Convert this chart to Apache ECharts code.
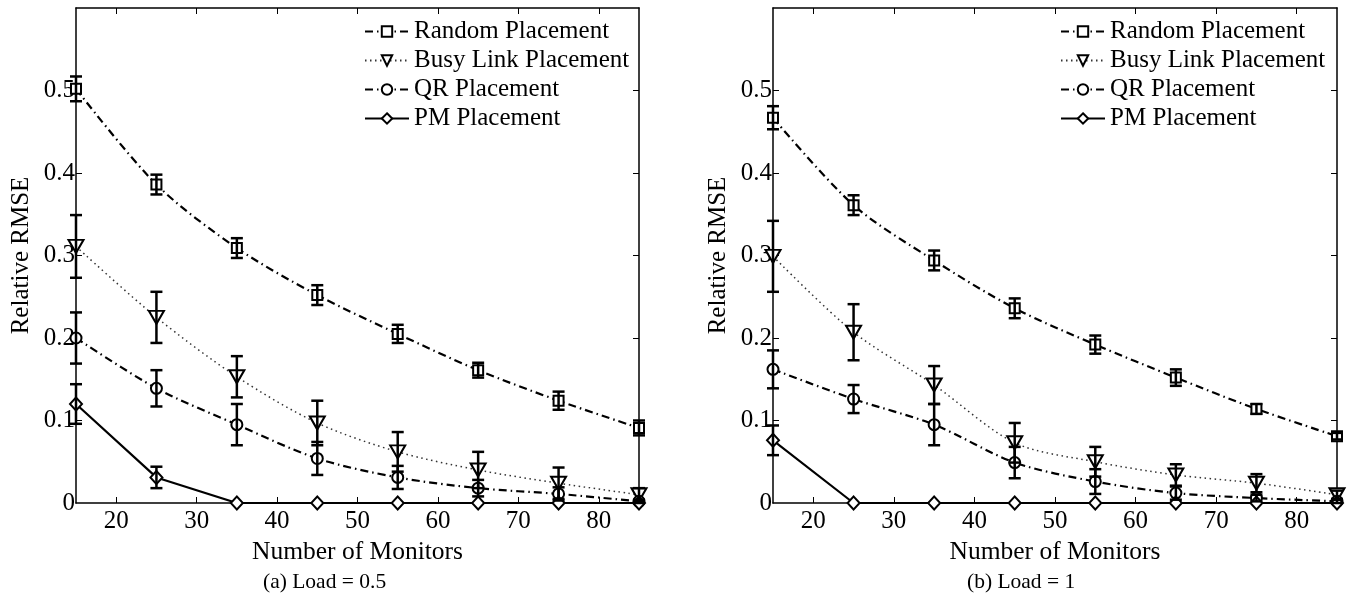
<!DOCTYPE html>
<html>
<head>
<meta charset="utf-8">
<script src="https://cdn.jsdelivr.net/npm/echarts@6/dist/echarts.min.js"></script>
<style>html,body{margin:0;padding:0;background:#fff;}#c{width:1356px;height:596px;}</style>
</head>
<body>
<div id="c"></div>
<script>
// ---- data ----
const monitors = [15, 25, 35, 45, 55, 65, 75, 85];
const xTicks = [20, 30, 40, 50, 60, 70, 80];
const yTicks = [0.1, 0.2, 0.3, 0.4, 0.5];
const seriesNames = ['Random Placement', 'Busy Link Placement', 'QR Placement', 'PM Placement'];
const captions = ['(a) Load = 0.5', '(b) Load = 1'];

// Load = 0.5
const randomA    = [0.502, 0.386, 0.309, 0.252, 0.205, 0.161, 0.124, 0.091];
const randomAErr = [0.015, 0.012, 0.012, 0.012, 0.011, 0.009, 0.011, 0.009];
const busyA      = [0.311, 0.225, 0.153, 0.097, 0.062, 0.040, 0.024, 0.010];
const busyAErr   = [0.038, 0.031, 0.025, 0.027, 0.024, 0.022, 0.019, 0.008];
const qrA        = [0.200, 0.139, 0.095, 0.054, 0.031, 0.018, 0.011, 0.002];
const qrAErr     = [0.031, 0.022, 0.025, 0.020, 0.014, 0.010, 0.008, 0.002];
const pmA        = [0.120, 0.031, 0, 0, 0, 0, 0, 0];
const pmAErr     = [0.024, 0.013, 0, 0, 0, 0, 0, 0];

// Load = 1
const randomB    = [0.467, 0.361, 0.294, 0.236, 0.192, 0.152, 0.114, 0.081];
const randomBErr = [0.014, 0.012, 0.012, 0.012, 0.011, 0.010, 0.006, 0.004];
const busyB      = [0.299, 0.207, 0.143, 0.073, 0.050, 0.034, 0.024, 0.010];
const busyBErr   = [0.043, 0.034, 0.023, 0.024, 0.018, 0.013, 0.011, 0.005];
const qrB        = [0.162, 0.126, 0.095, 0.049, 0.026, 0.012, 0.006, 0.002];
const qrBErr     = [0.023, 0.017, 0.025, 0.019, 0.015, 0.008, 0.004, 0.002];
const pmB        = [0.076, 0, 0, 0, 0, 0, 0, 0];
const pmBErr     = [0.018, 0, 0, 0, 0, 0, 0, 0];

// ---- styles ----
const FONT = 'Liberation Serif';
const styles = [
  {symbol: 'rect', size: 10, rotate: 0, line: {width: 2.2, type: [8, 4, 1.5, 4], color: '#000'}, smooth: 0.3},
  {symbol: 'triangle', size: [15, 13], rotate: 180, line: {width: 1.5, type: [1.5, 3.5], color: '#333'}, smooth: 0.3},
  {symbol: 'circle', size: 11, rotate: 0, line: {width: 2.2, type: [8, 4, 1.5, 4], color: '#000'}, smooth: 0.3},
  {symbol: 'diamond', size: [12, 13], rotate: 0, line: {width: 2.2, type: 'solid', color: '#000'}, smooth: false}
];

const panels = [
  {means: [randomA, busyA, qrA, pmA], errs: [randomAErr, busyAErr, qrAErr, pmAErr], left: 76, width: 563, legendLeft: 364, capLeft: 263},
  {means: [randomB, busyB, qrB, pmB], errs: [randomBErr, busyBErr, qrBErr, pmBErr], left: 773, width: 564, legendLeft: 1060, capLeft: 967}
];

const grids = [], xAxes = [], yAxes = [], series = [], legends = [], graphics = [];
const axisLineStyle = {color: '#000', width: 1.5};

panels.forEach((p, pi) => {
  grids.push({left: p.left, top: 8, width: p.width, height: 495, containLabel: false});
  xAxes.push({
    type: 'value', gridIndex: pi, min: 15, max: 85, position: 'bottom',
    name: 'Number of Monitors', nameLocation: 'middle', nameGap: 26,
    nameTextStyle: {fontFamily: FONT, fontSize: 25.5, color: '#000'},
    axisLine: {show: true, onZero: false, lineStyle: axisLineStyle},
    axisTick: {show: true, inside: true, length: 6, customValues: xTicks, lineStyle: {color: '#000', width: 1}},
    axisLabel: {show: true, customValues: xTicks, margin: 6, fontFamily: FONT, fontSize: 25, color: '#000'},
    splitLine: {show: false}
  });
  xAxes.push({
    type: 'value', gridIndex: pi, min: 15, max: 85, position: 'top',
    axisLine: {show: true, onZero: false, lineStyle: axisLineStyle},
    axisTick: {show: true, inside: true, length: 6, customValues: xTicks, lineStyle: {color: '#000', width: 1}},
    axisLabel: {show: false}, splitLine: {show: false}
  });
  yAxes.push({
    type: 'value', gridIndex: pi, min: 0, max: 0.6, interval: 0.1, position: 'left',
    name: 'Relative RMSE', nameLocation: 'middle', nameGap: 42,
    nameTextStyle: {fontFamily: FONT, fontSize: 25, color: '#000'},
    axisLine: {show: true, onZero: false, lineStyle: axisLineStyle},
    axisTick: {show: true, inside: true, length: 6, customValues: yTicks, lineStyle: {color: '#000', width: 1}},
    axisLabel: {show: true, margin: 1, fontFamily: FONT, fontSize: 25, color: '#000',
      formatter: v => (Math.abs(v - 0.6) < 1e-9 ? '' : (Math.round(v * 10) / 10).toString())},
    splitLine: {show: false}
  });
  yAxes.push({
    type: 'value', gridIndex: pi, min: 0, max: 0.6, interval: 0.1, position: 'right',
    axisLine: {show: true, onZero: false, lineStyle: axisLineStyle},
    axisTick: {show: true, inside: true, length: 6, customValues: yTicks, lineStyle: {color: '#000', width: 1}},
    axisLabel: {show: false}, splitLine: {show: false}
  });

  const xi = pi * 2, yi = pi * 2;
  seriesNames.forEach((name, si) => {
    const st = styles[si];
    series.push({
      name: name, type: 'line', xAxisIndex: xi, yAxisIndex: yi,
      data: monitors.map((m, k) => [m, p.means[si][k]]),
      smooth: st.smooth,
      symbol: st.symbol, symbolSize: st.size, symbolRotate: st.rotate, showAllSymbol: true,
      lineStyle: st.line,
      itemStyle: {color: '#fff', borderColor: '#000', borderWidth: 2},
      z: 3, animation: false, silent: true
    });
  });
  seriesNames.forEach((name, si) => {
    series.push({
      name: 'err-' + pi + '-' + si, type: 'custom', xAxisIndex: xi, yAxisIndex: yi,
      data: monitors.map((m, k) => [m, p.means[si][k] - p.errs[si][k], p.means[si][k] + p.errs[si][k]]),
      encode: {x: 0, y: [1, 2]},
      renderItem: function (params, api) {
        const x = api.value(0), lo = api.value(1), hi = api.value(2);
        if (hi - lo < 1e-9) return {type: 'group', children: []};
        const a = api.coord([x, hi]), b = api.coord([x, lo]);
        const w = 6, st = {stroke: '#000', lineWidth: 2.5};
        return {type: 'group', children: [
          {type: 'line', shape: {x1: a[0], y1: a[1], x2: b[0], y2: b[1]}, style: st},
          {type: 'line', shape: {x1: a[0] - w, y1: a[1], x2: a[0] + w, y2: a[1]}, style: st},
          {type: 'line', shape: {x1: b[0] - w, y1: b[1], x2: b[0] + w, y2: b[1]}, style: st}
        ]};
      },
      z: 4, animation: false, silent: true
    });
  });

  legends.push({
    data: seriesNames, orient: 'vertical', left: p.legendLeft, top: 19,
    itemWidth: 44, itemHeight: 13, itemGap: 4,
    textStyle: {fontFamily: FONT, fontSize: 25, color: '#000', lineHeight: 25, padding: [0, 0, 0, 0]},
    padding: 0, selectedMode: false, inactiveColor: '#000'
  });

  graphics.push({
    type: 'text', x: p.capLeft, y: 582,
    style: {text: captions[pi], fontFamily: FONT, fontSize: 21.5, fill: '#000', textAlign: 'left', textVerticalAlign: 'middle'}
  });
});

const chart = echarts.init(document.getElementById('c'), null, {renderer: 'canvas'});
chart.setOption({
  backgroundColor: '#fff',
  animation: false,
  grid: grids, xAxis: xAxes, yAxis: yAxes, series: series, legend: legends,
  graphic: graphics
});
</script>
</body>
</html>
